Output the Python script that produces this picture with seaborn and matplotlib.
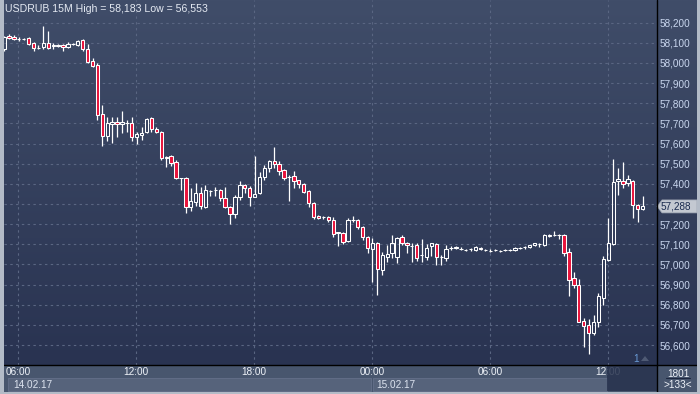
import numpy as np
import pandas as pd
import seaborn as sns
import matplotlib
matplotlib.use("Agg")
import matplotlib.pyplot as plt
from matplotlib.patches import Rectangle, Polygon

# ---------------- data (15-minute candles, USDRUB) ----------------
opens = [58068, 58135, 58129, 58119, 58120, 58126, 58098, 58074, 58078, 58098,
         58086, 58086, 58089, 58078, 58094, 58089, 58114, 58068, 58010, 57990,
         57745, 57639, 57697, 57706, 57697, 57701, 57701, 57631, 57641, 57656,
         57725, 57672, 57655, 57530, 57538, 57510, 57428, 57428, 57287, 57311,
         57353, 57287, 57365, 57370, 57370, 57328, 57284, 57249, 57336, 57394,
         57378, 57336, 57353, 57433, 57477, 57513, 57497, 57468, 57435, 57438,
         57418, 57398, 57365, 57306, 57240, 57234, 57237, 57220, 57158, 57158,
         57117, 57220, 57220, 57184, 57134, 57075, 57105, 56972, 57038, 57055,
         57036, 57134, 57108, 57091, 57096, 57047, 57038, 57091, 57101, 57035,
         57030, 57080, 57080, 57078, 57071, 57075, 57070, 57080, 57071, 57066,
         57071, 57066, 57073, 57071, 57071, 57081, 57085, 57085, 57095, 57101,
         57096, 57143, 57146, 57146, 57146, 57060, 56931, 56898, 56719, 56699,
         56658, 56716, 56835, 57022, 57101, 57414, 57416, 57403, 57416, 57295,
         57274]
highs = [58135, 58142, 58139, 58127, 58125, 58130, 58103, 58087, 58183, 58159,
         58098, 58093, 58093, 58104, 58101, 58114, 58119, 58094, 58026, 58001,
         57791, 57730, 57733, 57730, 57763, 57716, 57730, 57659, 57684, 57728,
         57730, 57684, 57660, 57538, 57545, 57520, 57430, 57435, 57378, 57403,
         57383, 57395, 57368, 57382, 57375, 57383, 57290, 57343, 57414, 57400,
         57388, 57538, 57460, 57495, 57518, 57584, 57515, 57472, 57445, 57462,
         57420, 57402, 57370, 57310, 57244, 57240, 57240, 57234, 57160, 57162,
         57229, 57240, 57225, 57190, 57140, 57130, 57113, 57060, 57096, 57147,
         57138, 57147, 57113, 57108, 57108, 57124, 57103, 57108, 57108, 57045,
         57096, 57090, 57091, 57085, 57078, 57080, 57090, 57085, 57078, 57075,
         57078, 57073, 57078, 57076, 57088, 57086, 57090, 57098, 57108, 57108,
         57150, 57150, 57166, 57152, 57150, 57080, 56960, 56927, 56734, 56729,
         56749, 56857, 57042, 57229, 57522, 57477, 57507, 57443, 57420, 57300,
         57340]
lows = [58060, 58119, 58114, 58111, 58114, 58089, 58058, 58067, 58068, 58068,
        58068, 58080, 58061, 58073, 58089, 58084, 58058, 57998, 57979, 57717,
        57588, 57614, 57604, 57631, 57651, 57659, 57614, 57598, 57618, 57651,
        57656, 57651, 57520, 57485, 57490, 57423, 57370, 57254, 57267, 57290,
        57274, 57282, 57340, 57340, 57315, 57278, 57199, 57229, 57322, 57353,
        57290, 57333, 57348, 57418, 57460, 57480, 57445, 57420, 57316, 57378,
        57378, 57355, 57287, 57224, 57224, 57225, 57210, 57138, 57092, 57103,
        57110, 57212, 57178, 57120, 57058, 56914, 56848, 56948, 57014, 57030,
        57006, 57098, 57055, 57014, 57015, 57014, 57023, 57040, 56996, 56996,
        57015, 57070, 57075, 57070, 57066, 57068, 57066, 57071, 57066, 57060,
        57066, 57060, 57068, 57066, 57068, 57076, 57078, 57082, 57092, 57088,
        57092, 57136, 57140, 57125, 57042, 56845, 56882, 56716, 56592, 56553,
        56648, 56690, 56799, 57017, 57096, 57345, 57378, 57388, 57229, 57212,
        57270]
closes = [58130, 58122, 58118, 58119, 58121, 58094, 58073, 58074, 58098, 58073,
          58086, 58086, 58078, 58094, 58094, 58109, 58068, 58006, 57987, 57742,
          57639, 57701, 57706, 57696, 57706, 57701, 57631, 57648, 57654, 57722,
          57671, 57656, 57527, 57530, 57505, 57428, 57428, 57287, 57315, 57353,
          57290, 57370, 57365, 57370, 57328, 57284, 57249, 57333, 57394, 57378,
          57336, 57348, 57433, 57477, 57513, 57497, 57465, 57430, 57435, 57414,
          57398, 57360, 57303, 57234, 57229, 57234, 57221, 57149, 57158, 57113,
          57220, 57220, 57184, 57134, 57080, 57108, 56976, 57047, 57050, 57108,
          57129, 57108, 57096, 57091, 57030, 57047, 57080, 57105, 57035, 57035,
          57075, 57080, 57088, 57078, 57071, 57075, 57085, 57078, 57071, 57066,
          57071, 57066, 57073, 57071, 57081, 57081, 57085, 57096, 57105, 57101,
          57146, 57143, 57146, 57146, 57058, 56923, 56898, 56716, 56696, 56658,
          56716, 56845, 57027, 57105, 57408, 57423, 57398, 57424, 57295, 57274,
          57288]

time_labels = ["06:00", "12:00", "18:00", "00:00", "06:00", "12:00"]
date_labels = ["14.02.17", "15.02.17"]
price_ticks = [56600, 56700, 56800, 56900, 57000, 57100, 57200, 57300,
               57400, 57500, 57600, 57700, 57800, 57900, 58000, 58100, 58200]
title_text = "USDRUB 15M High = 58,183 Low = 56,553"
last_price = 57288

df = pd.DataFrame({"open": opens, "high": highs, "low": lows, "close": closes})
df["idx"] = np.arange(len(df)) - 1  # first (partial) candle at -1

# ---------------- styling ----------------
sns.set_theme(style="dark")
plt.rcParams["font.family"] = ["Liberation Sans", "DejaVu Sans"]

W, H = 700, 394
fig = plt.figure(figsize=(7.0, 3.94), dpi=100)
fig.patch.set_facecolor("#48566e")

def fx(px):
    return px / W

def fy(py):
    return 1 - py / H

ax_l, ax_r, ax_t, ax_b = 4, 656.7, 0, 365

# gradient background (plot + right price panel)
bg = fig.add_axes([fx(ax_l), fy(ax_b), fx(697 - ax_l), fy(0) - fy(ax_b)], zorder=0)
top_c = np.array([0x40, 0x4d, 0x69]) / 255
bot_c = np.array([0x29, 0x33, 0x51]) / 255
t = np.linspace(0, 1, 256)[:, None]
grad = top_c[None, None, :] * (1 - t[..., None]) + bot_c[None, None, :] * t[..., None]
grad = np.repeat(grad, 2, axis=1)
bg.imshow(grad, aspect="auto", extent=[0, 1, 0, 1])
bg.set_axis_off()

ax = fig.add_axes([fx(ax_l), fy(ax_b), fx(ax_r - ax_l), fy(0) - fy(ax_b)], zorder=2)
ax.set_facecolor("none")
for s in ax.spines.values():
    s.set_visible(False)

px_per = 4.912
xmin = -1 - (9 - px_per - ax_l) / px_per
xmax = xmin + (ax_r - ax_l) / px_per
upp = 4.964  # price units per pixel
ymax = 58200 + 22.7 * upp
ymin = 58200 - (ax_b - 22.7) * upp
ax.set_xlim(xmin, xmax)
ax.set_ylim(ymin, ymax)

# grid
grid_col = "#5a6682"
tick_x = [1.89 + 24 * j for j in range(len(time_labels))]
for xv in tick_x:
    ax.axvline(xv, color=grid_col, lw=0.8, ls=(0, (2.2, 3)), zorder=1)
for yv in price_ticks:
    ax.axhline(yv, color=grid_col, lw=0.8, ls=(0, (2.2, 3)), zorder=1)

# candles
red = "#e8143c"
bw = 0.68
min_h = 0.2 * upp
for _, r in df.iterrows():
    x = r["idx"]
    o, c, h, l = r["open"], r["close"], r["high"], r["low"]
    btop, bbot = max(o, c), min(o, c)
    ax.vlines(x, btop, h, color="white", lw=0.9, zorder=3)
    ax.vlines(x, l, bbot, color="white", lw=0.9, zorder=3)
    height = max(btop - bbot, min_h)
    fc = red if c < o else "none"
    ax.bar(x, height, bottom=bbot, width=bw, facecolor=fc, edgecolor="white",
           linewidth=0.75, zorder=4)

ax.set_xticks([])
ax.set_yticks(price_ticks)
ax.yaxis.tick_right()
# the 57,300 label is hidden behind the last-price tag in the original
ax.set_yticklabels(["" if v == 57300 else f"{v:,}" for v in price_ticks],
                   fontsize=7.2, color="#c9d6ee")
ax.tick_params(axis="y", length=0, pad=1.8)

# title
fig.text(fx(5), fy(9), title_text, fontsize=7.6, color="#e4e9f2", va="center", ha="left", zorder=10)

# x-axis strip texts
for xv, lab in zip(tick_x, time_labels):
    xpix = ax_l + (xv - xmin) * px_per
    fig.text(fx(xpix), fy(372), lab, fontsize=7.2, color="#eef2f8", ha="center", va="center", zorder=5)

# date boxes
fig.patches.append(Rectangle((fx(8), fy(391)), fx(371 - 8), fy(378) - fy(391), transform=fig.transFigure,
                             facecolor="#56637b", edgecolor="#64708a", lw=0.6, zorder=3))
fig.patches.append(Rectangle((fx(373), fy(391)), fx(607 - 373), fy(378) - fy(391), transform=fig.transFigure,
                             facecolor="#56637b", edgecolor="#64708a", lw=0.6, zorder=3))
fig.text(fx(13), fy(384.5), date_labels[0], fontsize=7.2, color="#dde4f0", ha="left", va="center", zorder=5)
fig.text(fx(376), fy(384.5), date_labels[1], fontsize=7.2, color="#dde4f0", ha="left", va="center", zorder=5)

# dark scroll box
fig.patches.append(Rectangle((fx(607), fy(391)), fx(656.7 - 607), fy(365) - fy(391), transform=fig.transFigure,
                             facecolor="#27324d", alpha=0.85, edgecolor="none", zorder=6))

# bottom right counter
fig.text(fx(678), fy(374), "1801", fontsize=7.2, color="#eef2f8", ha="center", va="center", zorder=7)
fig.lines.append(plt.Line2D([fx(666), fx(690)], [fy(378), fy(378)], transform=fig.transFigure,
                            color="#1e2840", lw=0.8, zorder=7))
fig.text(fx(678), fy(385), ">133<", fontsize=7.2, color="#eef2f8", ha="center", va="center", zorder=7)

# small "1" marker
fig.text(fx(636), fy(358.5), "1", fontsize=7.2, color="#6a9cd8", ha="center", va="center", zorder=7)
fig.patches.append(Polygon([[fx(641), fy(361)], [fx(649), fy(361)], [fx(645), fy(356)]],
                           closed=True, transform=fig.transFigure, facecolor="#4f5a74", edgecolor="none", zorder=7))

# last price tag
ytag = 22.7 + (58200 - last_price) / upp
fig.patches.append(Polygon([[fx(657), fy(ytag)], [fx(662), fy(ytag - 6.5)], [fx(697), fy(ytag - 6.5)],
                            [fx(697), fy(ytag + 6.5)], [fx(662), fy(ytag + 6.5)]], closed=True,
                           transform=fig.transFigure, facecolor="#c3c8d1", edgecolor="#9aa2b0", lw=0.5, zorder=8))
fig.text(fx(661), fy(ytag), f"{last_price:,}", fontsize=7.2, color="#1a2a4e", ha="left", va="center", zorder=9)

# black separator lines
fig.lines.append(plt.Line2D([fx(ax_r), fx(ax_r)], [fy(0), fy(391.5)], transform=fig.transFigure,
                            color="black", lw=1.0, zorder=9))
fig.lines.append(plt.Line2D([fx(ax_l), fx(697)], [fy(365), fy(365)], transform=fig.transFigure,
                            color="black", lw=1.0, zorder=9))

# light outer frame (left, right, bottom)
frame_c = "#b3bbc7"
fig.patches.append(Rectangle((0, 0), fx(3.5), 1, transform=fig.transFigure, facecolor=frame_c, edgecolor="none", zorder=10))
fig.patches.append(Rectangle((fx(697), 0), fx(3), 1, transform=fig.transFigure, facecolor=frame_c, edgecolor="none", zorder=10))
fig.patches.append(Rectangle((0, 0), 1, fy(391.5), transform=fig.transFigure, facecolor=frame_c, edgecolor="none", zorder=10))

fig.savefig("out.png", dpi=100, facecolor=fig.get_facecolor())
